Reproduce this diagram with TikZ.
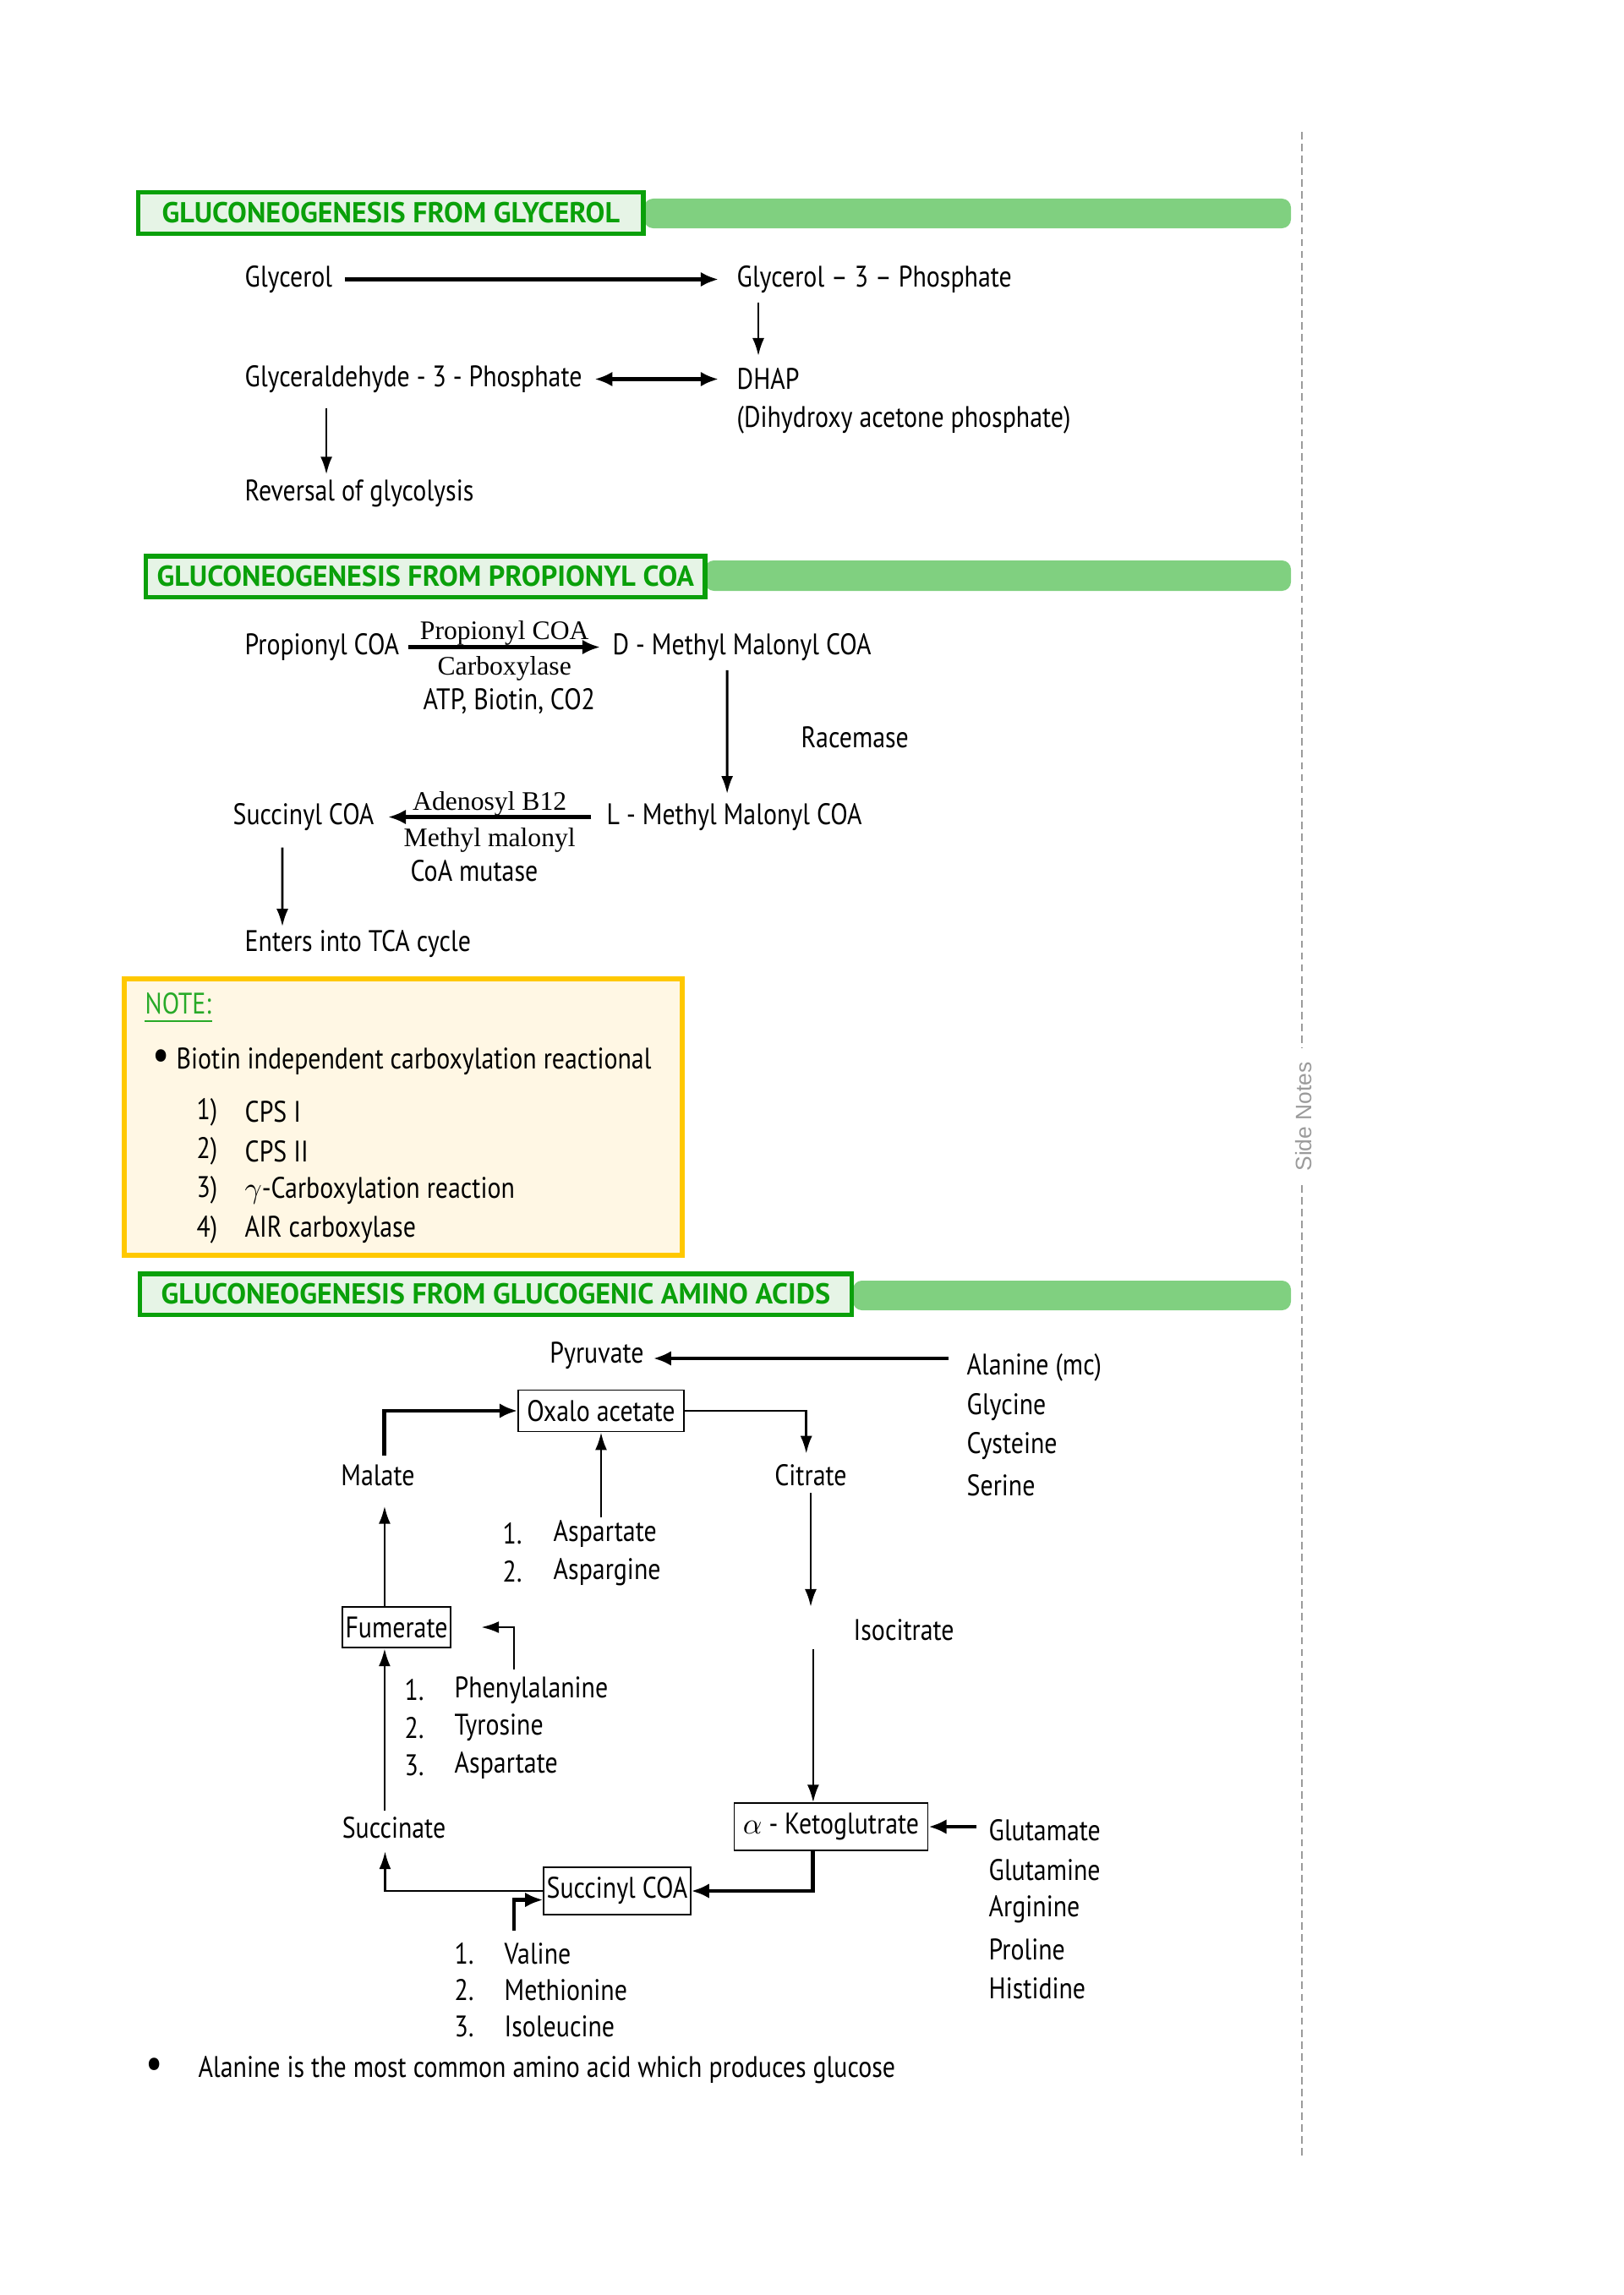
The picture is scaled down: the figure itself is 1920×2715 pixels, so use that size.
\documentclass[tikz,border=0pt]{standalone}
\usepackage{fontspec}
\setmainfont[FakeStretch=0.85]{PT Sans}
\newfontfamily\labelfont{Liberation Serif}
\newfontfamily\headfont{PT Sans}
\newfontfamily\marginfont{Liberation Sans}
\usetikzlibrary{arrows.meta,positioning}

\definecolor{headgreen}{RGB}{10,160,10}
\definecolor{headback}{RGB}{230,244,230}
\definecolor{bargreen}{RGB}{128,208,128}
\definecolor{noteframe}{RGB}{255,200,0}
\definecolor{noteback}{RGB}{255,247,228}
\definecolor{notegreen}{RGB}{40,170,40}
\definecolor{margingray}{RGB}{155,155,155}

\begin{document}
\begin{tikzpicture}[x=0.01cm, y=-0.01cm, font=\fontsize{10}{12}\selectfont,
    txt/.style={anchor=west, inner sep=0pt, yshift=-1pt},
    mid/.style={inner sep=0pt, yshift=-1pt},
    enz/.style={inner sep=1.5pt, font=\labelfont\fontsize{9}{10}\selectfont},
    headbox/.style={draw=headgreen, line width=1.5pt, fill=headback, text=headgreen,
      anchor=west, minimum height=0.48cm, inner xsep=1pt,
      font=\headfont\bfseries\fontsize{9.7}{12}\selectfont},
    bar/.style={fill=bargreen, rounded corners=3pt},
    metab/.style={draw, line width=0.5pt, inner xsep=1pt, minimum height=0.42cm},
    flow/.style={-{Latex[length=6pt,width=4pt]}, line width=0.8pt},
    heavy/.style={-{Latex[length=6pt,width=5pt]}, line width=1.4pt},
    both/.style={{Latex[length=6pt,width=5pt]}-{Latex[length=6pt,width=5pt]}, line width=1.4pt}]
    \fill[white] (0,0) rectangle (1920,2715);
    \useasboundingbox (0,0) rectangle (1920,2715);

    % Randspalte
    \draw[margingray, dash pattern=on 2.5pt off 1.5pt, line width=0.6pt]
    (1540,156) -- (1540,1240) (1540,1402) -- (1540,2554);
    \node[rotate=90, text=margingray, font=\marginfont\fontsize{7.5}{9}\selectfont] (side) at (1542,1321) {Side Notes};

    % Kopfzeilen
    \fill[bar] (762,235) rectangle (1527,270);
    \node[headbox, minimum width=5.97cm] (hdglyc) at (161,252) {GLUCONEOGENESIS FROM GLYCEROL};
    \fill[bar] (834,663) rectangle (1527,699);
    \node[headbox, minimum width=6.61cm] (hdprop) at (170,682) {GLUCONEOGENESIS FROM PROPIONYL COA};
    \fill[bar] (1009,1515) rectangle (1527,1550);
    \node[headbox, minimum width=8.41cm] (hdamino) at (163,1531) {GLUCONEOGENESIS FROM GLUCOGENIC AMINO ACIDS};

    % Glycerol
    \node[txt] (glyc)  at (289,327) {Glycerol};
    \node[txt] (gtp)   at (871,327) {Glycerol -- 3 -- Phosphate};
    \node[txt] (gap)   at (289,445) {Glyceraldehyde - 3 - Phosphate};
    \node[txt] (dhap)  at (871,445) {DHAP};
    \node[txt] (dhapx) at (871,493) {(Dihydroxy acetone phosphate)};
    \node[txt] (revg)  at (289,580) {Reversal of glycolysis};

    \draw[heavy] ([xshift=4pt]glyc.east) -- ([xshift=-6pt]gtp.west);
    \draw[flow] ([xshift=7.4pt,yshift=-3pt]gtp.south west) -- ([xshift=7.4pt,yshift=4pt]dhap.north west);
    \draw[both] ([xshift=4pt]gap.east) -- ([xshift=-6pt]dhap.west);
    \draw[flow] ([xshift=27.6pt,yshift=-5pt]gap.south west) -- ([xshift=27.6pt,yshift=1.5pt]revg.north west);

    % Propionyl CoA
    \node[txt] (prop) at (289,762) {Propionyl COA};
    \node[txt] (dmm)  at (724,762) {D - Methyl Malonyl COA};
    \draw[heavy] ([xshift=3pt]prop.east) -- ([xshift=-4pt]dmm.west)
    node[enz, midway, above, yshift=-1.5pt] (pcc) {Propionyl COA}
    node[enz, midway, below, yshift=-1pt] (carb) {Carboxylase};
    \node[txt] (atp) at (500,826) {ATP, Biotin, CO2};
    \node[txt] (race) at (947,869) {Racemase};
    \node[txt] (lmm)  at (717,963) {L - Methyl Malonyl COA};
    \draw[flow] ([xshift=38.7pt,yshift=-3pt]dmm.south west) -- ([xshift=40.7pt,yshift=3pt]lmm.north west);
    \node[txt] (succ) at (275,963) {Succinyl COA};
    \draw[heavy] ([xshift=-5pt]lmm.west) -- ([xshift=4.5pt]succ.east)
    node[enz, midway, above, yshift=-2pt] (ado) {Adenosyl B12}
    node[enz, midway, below, yshift=-1.5pt] (mmm) {Methyl malonyl};
    \node[txt] (mut) at (485,1027) {CoA mutase};
    \node[txt] (tca) at (289,1113) {Enters into TCA cycle};
    \draw[flow] ([xshift=16.8pt,yshift=-5.5pt]succ.south west) -- ([xshift=12.8pt,yshift=1pt]tca.north west);

    % Notiz
    \draw[noteframe, line width=1.8pt, fill=noteback] (147,1158) rectangle (807,1485);
    \node[txt, text=notegreen] (note) at (171,1184) {NOTE:};
    \draw[notegreen, line width=0.8pt] ([yshift=-2pt]note.south west) -- ([yshift=-2pt]note.south east);
    \node[txt, font=\fontsize{15}{15}\selectfont] (bul) at (180,1250) {\textbullet};
    \node[txt] (biot) at (208,1252) {Biotin independent carboxylation reactional};
    \foreach \lab [count=\i] in {CPS I, CPS II, {$\gamma$-Carboxylation reaction}, AIR carboxylase}{
        \node[txt] (numb\i) at (232,1265.7+46.3*\i) {\i)};
        \node[txt] (reac\i) at (289,1265.7+46.3*\i) {\lab};
    }

    % Aminosaeuren
    \node[mid] (pyr) at (706,1600) {Pyruvate};
    \foreach \lab [count=\i] in {Alanine (mc), Glycine, Cysteine, Serine}
    \node[txt] (ala\i) at (1143,1567.3+46.7*\i) {\lab};
    \coordinate (alaout) at ([xshift=-6pt,yshift=3pt]ala1.west);
    \coordinate (pyrin) at ([xshift=3pt]pyr.east);
    \draw[heavy] (alaout) -- (pyrin |- alaout);

    \node[metab, minimum width=1.96cm] (oaa) at (711,1669) {Oxalo acetate};
    \node[mid] (mal) at (447,1742) {Malate};
    \node[mid] (cit) at (959,1742) {Citrate};
    \node[txt] (iso) at (1009,1925) {Isocitrate};
    \node[metab, minimum width=2.29cm] (akg) at (983,2161) {$\alpha$ - Ketoglutrate};
    \node[metab, minimum width=1.68cm] (sca) at (730,2237) {Succinyl COA};
    \node[mid] (suc) at (466,2159) {Succinate};
    \node[metab, minimum width=1.28cm] (fum) at (469,1925) {Fumerate};

    \foreach \lab [count=\i] in {Aspartate, Aspargine}{
        \node[txt] (aspn\i) at (594,1766+45*\i) {\i.};
        \node[txt] (asp\i) at (654,1766+45*\i) {\lab};
    }
    \foreach \lab [count=\i] in {Phenylalanine, Tyrosine, Aspartate}{
        \node[txt] (phen\i) at (478,1951.5+44.5*\i) {\i.};
        \node[txt] (phe\i) at (537,1951.5+44.5*\i) {\lab};
    }
    \foreach \lab [count=\i] in {Valine, Methionine, Isoleucine}{
        \node[txt] (valn\i) at (537,2265+43*\i) {\i.};
        \node[txt] (val\i) at (596,2265+43*\i) {\lab};
    }
    \foreach \lab [count=\i] in {Glutamate, Glutamine, Arginine, Proline, Histidine}
    \node[txt] (glu\i) at (1169,2115.25+46.75*\i) {\lab};

    % Zyklus
    \coordinate (malN) at ([xshift=2pt,yshift=3pt]mal.north);
    \draw[heavy] (malN) |- (oaa.west);
    \coordinate (citN) at ([xshift=-1.5pt,yshift=3.5pt]cit.north);
    \draw[flow] (oaa.east) -| (citN);
    \coordinate (aspS) at (708,1795);
    \draw[flow] (aspS -| oaa.south) -- (oaa.south);
    \coordinate (citS) at ([yshift=-2pt]cit.south);
    \coordinate (isoin) at (citS |- 0,1901);
    \draw[flow] (citS) -- (isoin);
    \coordinate (akgN) at ([xshift=-6pt]akg.north);
    \coordinate (isoout) at (akgN |- 0,1951);
    \draw[flow] (isoout) -- (akgN);
    \coordinate (gluout) at ([xshift=-4pt]glu1.west);
    \draw[heavy] (gluout |- akg.east) -- (akg.east);
    \coordinate (akgS) at ([xshift=-6pt]akg.south);
    \draw[heavy] (akgS) |- (sca.east);
    \coordinate (sucS) at ([xshift=-3pt,yshift=-4pt]suc.south);
    \draw[flow] (sca.west) -| (sucS);
    \coordinate (valin) at (608,2284);
    \draw[heavy] (valin) |- ([yshift=-3pt]sca.west);
    \coordinate (fumS) at ([xshift=-4pt]fum.south);
    \coordinate (sucN) at ([yshift=2pt]suc.north);
    \draw[flow] (fumS |- sucN) -- (fumS);
    \coordinate (fumN) at ([xshift=-4pt]fum.north);
    \coordinate (malS) at ([yshift=-6.5pt]mal.south);
    \draw[flow] (fumN) -- (fumN |- malS);
    \coordinate (phein) at (608,1975);
    \draw[flow] (phein) |- ([xshift=10pt]fum.east);

    \node[txt, font=\fontsize{15}{15}\selectfont] (bul2) at (172,2443) {\textbullet};
    \node[txt] (alanote) at (234,2445) {Alanine is the most common amino acid which produces glucose};
\end{tikzpicture}
\end{document}
